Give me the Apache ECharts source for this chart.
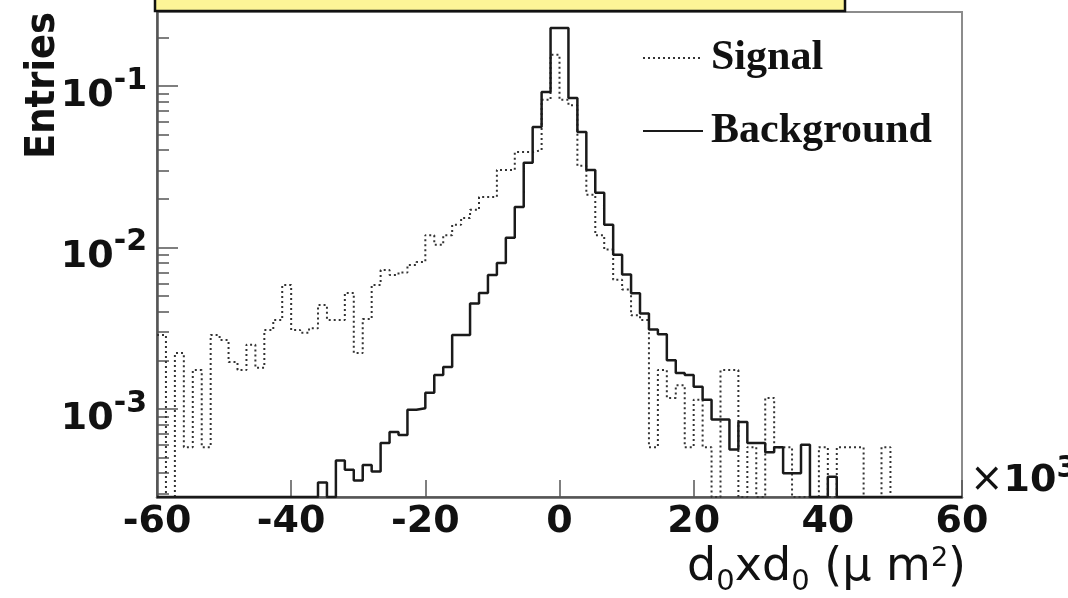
<!DOCTYPE html>
<html><head><meta charset="utf-8">
<script src="https://cdn.jsdelivr.net/npm/echarts@6/dist/echarts.min.js"></script>
<style>html,body{margin:0;padding:0;background:#fff}#c{width:1068px;height:598px}</style>
</head><body><div id="c"></div>
<script>
// ---- data ----
const xRange = [-60, 60];           // x10^3 um^2
const nBins = 90;
const xTickStep = 20;
const yRange = [2.85e-4, 0.287];
const yMajorTicks = [1e-3, 1e-2, 1e-1];
const yMinorTicks = [3e-4,4e-4,5e-4,6e-4,7e-4,8e-4,9e-4,
                     2e-3,3e-3,4e-3,5e-3,6e-3,7e-3,8e-3,9e-3,
                     2e-2,3e-2,4e-2,5e-2,6e-2,7e-2,8e-2,9e-2,2e-1];
const seriesNames = ['Signal', 'Background'];
const yTitle = 'Entries';

const signal = [
  0.00287, 0, 0.00222, 0.00058, 0.00174, 0.00058, 0.00287, 0.00267, 0.00195, 0.00174,
  0.0025, 0.0018, 0.00308, 0.00356, 0.00586, 0.00308, 0.00296, 0.00316, 0.0044, 0.00356,
  0.00356, 0.00523, 0.00222, 0.0036, 0.00586, 0.00724, 0.00676, 0.0070, 0.0078, 0.00813,
  0.0119, 0.0104, 0.0119, 0.0138, 0.0152, 0.0171, 0.0205, 0.0205, 0.0302, 0.0302,
  0.039, 0.039, 0.040, 0.082, 0.156, 0.082, 0.076, 0.032, 0.0212, 0.0119,
  0.0097, 0.0063, 0.0055, 0.0038, 0.00356, 0.00058, 0.00174, 0.00117, 0.0014, 0.00058,
  0.00114, 0.00058, 0, 0.00174, 0.00174, 0, 0.00058, 0, 0.00117, 0.00058,
  0.00058, 0, 0, 0, 0.00058, 0, 0.00058, 0.00058, 0.00058, 0,
  0, 0.00058, 0, 0, 0, 0, 0, 0, 0, 0
];
const background = [
  0, 0, 0, 0, 0, 0, 0, 0, 0, 0,
  0, 0, 0, 0, 0, 0, 0, 0, 0.00035, 0,
  0.00048, 0.00042, 0.00036, 0.00045, 0.00041, 0.000615, 0.00072, 0.00069, 0.00099, 0.00101,
  0.00126, 0.00162, 0.00182, 0.00287, 0.00287, 0.0045, 0.00523, 0.00676, 0.00802, 0.0115,
  0.0178, 0.0334, 0.0557, 0.0918, 0.2286, 0.2286, 0.0843, 0.0519, 0.0302, 0.0218,
  0.0138, 0.009, 0.0068, 0.0052, 0.0039, 0.0031, 0.0029, 0.002, 0.00167, 0.00162,
  0.00137, 0.00114, 0.00086, 0.00086, 0.00056, 0.00083, 0.000615, 0.000615, 0.00054, 0.00058,
  0.0004, 0.0004, 0.0006, 0, 0, 0.00038, 0, 0, 0, 0,
  0, 0, 0, 0, 0, 0, 0, 0, 0, 0
];

// ---- build step outlines (bin edges) ----
function stepPoints(vals) {
  const w = (xRange[1] - xRange[0]) / nBins;
  const pts = [];
  for (let k = 0; k < vals.length; k++) {
    const v = vals[k] > 0 ? vals[k] : yRange[0];
    pts.push([xRange[0] + k * w, v]);
    pts.push([xRange[0] + (k + 1) * w, v]);
  }
  return pts;
}

const chart = echarts.init(document.getElementById('c'), null, {renderer: 'canvas'});
const tickFont = {fontFamily: 'DejaVu Sans', fontWeight: 'bold', fontSize: 38, color: '#111'};

chart.setOption({
  animation: false,
  backgroundColor: '#fff',
  grid: {left: 157, right: 106, top: 12, bottom: 101, show: true,
         containLabel: false, outerBoundsMode: 'none',
         borderColor: '#8c8c8c', borderWidth: 2, backgroundColor: 'transparent'},
  graphic: [{
    type: 'rect', z: 100,
    shape: {x: 155, y: -12, width: 690, height: 23},
    style: {fill: '#fdf497', stroke: '#111', lineWidth: 2.5}
  }],
  legend: {
    data: seriesNames, orient: 'vertical', left: 637, top: 31,
    itemWidth: 60, itemHeight: 16, itemGap: 29,
    itemStyle: {color: 'transparent', borderWidth: 0, opacity: 0},
    textStyle: {fontFamily: 'Liberation Serif', fontWeight: 'bold', fontSize: 42,
                color: '#111', lineHeight: 44, padding: [0, 0, 0, 3]}
  },
  xAxis: [{
    type: 'value', min: xRange[0], max: xRange[1], interval: xTickStep,
    position: 'bottom',
    axisLine: {show: true, onZero: false, lineStyle: {color: '#555', width: 2.5}},
    axisTick: {show: true, inside: true, length: 17, lineStyle: {color: '#555', width: 1.5}},
    axisLabel: Object.assign({margin: 6}, tickFont),
    splitLine: {show: false},
    name: '{n|d}{sb|0}{n|xd}{sb|0}{n| (μ m}{sp|2}{n|)}',
    nameLocation: 'end', nameGap: 4,
    nameTextStyle: {
      align: 'right', verticalAlign: 'top', padding: [43, 0, 0, 0],
      rich: {
        n: {fontFamily: 'DejaVu Sans', fontSize: 46, color: '#111'},
        sb: {fontFamily: 'DejaVu Sans', fontSize: 29, color: '#111', padding: [28, 0, 0, 0]},
        sp: {fontFamily: 'DejaVu Sans', fontSize: 27, color: '#111', padding: [0, 0, 20, 0]}
      }
    }
  }, {
    type: 'value', min: xRange[0], max: xRange[1], position: 'bottom',
    axisLine: {show: false}, axisTick: {show: false}, axisLabel: {show: false},
    splitLine: {show: false},
    name: '{x|×}{b|10}{s|3}', nameLocation: 'end', nameGap: 8,
    nameTextStyle: {
      align: 'left', verticalAlign: 'middle', padding: [0, 0, 32, 0],
      rich: {
        x: {fontFamily: 'DejaVu Sans', fontSize: 40, color: '#111'},
        b: {fontFamily: 'DejaVu Sans', fontWeight: 'bold', fontSize: 38, color: '#111'},
        s: {fontFamily: 'DejaVu Sans', fontWeight: 'bold', fontSize: 30, color: '#111', padding: [0, 0, 24, 0]}
      }
    }
  }],
  yAxis: [{
    type: 'log', logBase: 10, min: yRange[0], max: yRange[1], position: 'left',
    axisLine: {show: true, onZero: false, lineStyle: {color: '#555', width: 2.5}},
    axisTick: {show: true, inside: true, length: 12, customValues: yMinorTicks,
               lineStyle: {color: '#555', width: 1.5}},
    axisLabel: {show: false},
    splitLine: {show: false},
    name: yTitle, nameLocation: 'end', nameGap: 0, nameRotate: 90,
    nameTextStyle: {fontFamily: "'DejaVu Sans Condensed', 'Liberation Sans'",
                    fontWeight: 'bold', fontSize: 41, color: '#111',
                    align: 'right', verticalAlign: 'bottom', padding: [0, 0, 93, 0]}
  }, {
    type: 'log', logBase: 10, min: yRange[0], max: yRange[1], position: 'left',
    axisLine: {show: false, onZero: false},
    axisTick: {show: true, inside: true, length: 21, customValues: yMajorTicks,
               lineStyle: {color: '#555', width: 1.5}},
    axisLabel: {
      show: true, margin: 10, customValues: yMajorTicks,
      formatter: function (v) {
        const e = Math.round(Math.log10(v));
        return '{b|10}{s|' + e + '}';
      },
      rich: {
        b: {fontFamily: 'DejaVu Sans', fontWeight: 'bold', fontSize: 38, color: '#111', padding: [20, 0, 0, 0]},
        s: {fontFamily: 'DejaVu Sans', fontWeight: 'bold', fontSize: 30, color: '#111', padding: [0, 0, 10, 0]}
      }
    },
    splitLine: {show: false}
  }],
  series: [{
    name: seriesNames[0], type: 'line', xAxisIndex: 0, yAxisIndex: 0,
    data: stepPoints(signal), symbol: 'none', showSymbol: false, clip: true,
    lineStyle: {color: '#333', width: 2, type: [2, 3]}, itemStyle: {color: '#333'}, z: 3
  }, {
    name: seriesNames[1], type: 'line', xAxisIndex: 0, yAxisIndex: 0,
    data: stepPoints(background), symbol: 'none', showSymbol: false, clip: true,
    lineStyle: {color: '#1a1a1a', width: 2.5, type: 'solid'}, itemStyle: {color: '#1a1a1a'}, z: 4
  }]
});
</script>
</body></html>
